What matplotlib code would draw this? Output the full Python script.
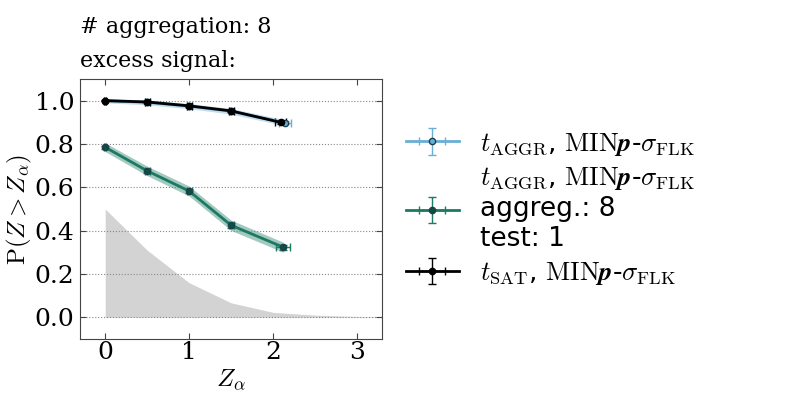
import matplotlib
matplotlib.use("Agg")
import matplotlib.pyplot as plt
import numpy as np

plt.rcParams["font.family"] = ["DejaVu Serif"]
plt.rcParams["mathtext.fontset"] = "cm"

# null distribution (grey area)
null_x = [0.0, 0.5, 1.0, 1.5, 2.0, 2.5, 3.0, 3.5]
null_y = [0.50, 0.31, 0.16, 0.067, 0.023, 0.010, 0.004, 0.002]

# t_AGGR, MINp-sigma_FLK
blue_x = [0.0, 0.5, 1.0, 1.5, 2.14]
blue_y = [1.0, 0.992, 0.975, 0.951, 0.898]
blue_xerr = [0.01, 0.03, 0.03, 0.03, 0.07]
blue_yerr = [0.002, 0.003, 0.004, 0.005, 0.006]

# t_AGGR, aggreg. 8, test 1
green_x = [0.0, 0.5, 1.0, 1.5, 2.12]
green_y = [0.785, 0.676, 0.583, 0.425, 0.324]
green_xerr = [0.01, 0.03, 0.03, 0.03, 0.08]
green_yerr = [0.008, 0.010, 0.011, 0.012, 0.011]

# t_SAT, MINp-sigma_FLK
black_x = [0.0, 0.5, 1.0, 1.5, 2.09]
black_y = [1.0, 0.994, 0.976, 0.953, 0.900]
black_xerr = [0.01, 0.03, 0.03, 0.03, 0.07]
black_yerr = [0.002, 0.003, 0.004, 0.005, 0.006]

lbl_main = r"$t_{\rm AGGR}$, ${\rm MIN}\mathbfit{p}$-$\sigma_{\rm FLK}$"
lbl_sat = r"$t_{\rm SAT}$, ${\rm MIN}\mathbfit{p}$-$\sigma_{\rm FLK}$"

fig = plt.figure(figsize=(7.97, 3.99), dpi=100)
ax = fig.add_axes([0.1004, 0.1504, 0.379, 0.6516])

ax.fill_between(null_x, 0, null_y, color="#d3d3d3", lw=0)

series = [
    (blue_x, blue_y, blue_xerr, blue_yerr, "#6aaed6", "#6aaed6", 0.008, lbl_main),
    (green_x, green_y, green_xerr, green_yerr, "#1a7a62", "#0b4f3f", 0.012,
     lbl_main + "\naggreg.: 8\ntest: 1"),
    (black_x, black_y, black_xerr, black_yerr, "black", "black", 0.0, lbl_sat),
]
for x, y, xe, ye, c, mc, band, lab in series:
    x = np.array(x)
    y = np.array(y)
    ye = np.array(ye)
    if band > 0:
        ax.fill_between(x, y - ye - band, y + ye + band, color=c, alpha=0.4, lw=0)
    ax.errorbar(x, y, xerr=xe, yerr=ye, color=c, lw=2, elinewidth=1, capsize=3,
                marker="o", ms=4.5, mfc=mc, mec="#1f3f4f" if c != "black" else "black",
                label=lab)

ax.set_xlim(-0.3, 3.3)
ax.set_ylim(-0.1, 1.1)
ax.set_xticks([0, 1, 2, 3])
ax.set_yticks([0.0, 0.2, 0.4, 0.6, 0.8, 1.0])
ax.yaxis.grid(True, ls=":", color="#888888", lw=0.8)
ax.tick_params(direction="in", top=True, right=True, labelsize=18, length=4,
               color="#444444", pad=4)
ax.tick_params(axis="x", pad=1.6)
for s in ax.spines.values():
    s.set_color("#444444")

ax.set_xlabel(r"$Z_\alpha$", fontsize=18, labelpad=2)
ax.set_ylabel(r"$\mathrm{P}(Z > Z_\alpha)$", fontsize=18, labelpad=0.5)
ax.set_title("# aggregation: 8\nexcess signal:", loc="left", fontsize=16,
             linespacing=1.7, pad=8.6)

ax.legend(loc="center left", bbox_to_anchor=(1.0, 0.5), frameon=False,
          prop={"family": "DejaVu Sans", "size": 19}, handlelength=2.0,
          labelspacing=0.3, handletextpad=0.8)

fig.savefig("out.png", dpi=100)
